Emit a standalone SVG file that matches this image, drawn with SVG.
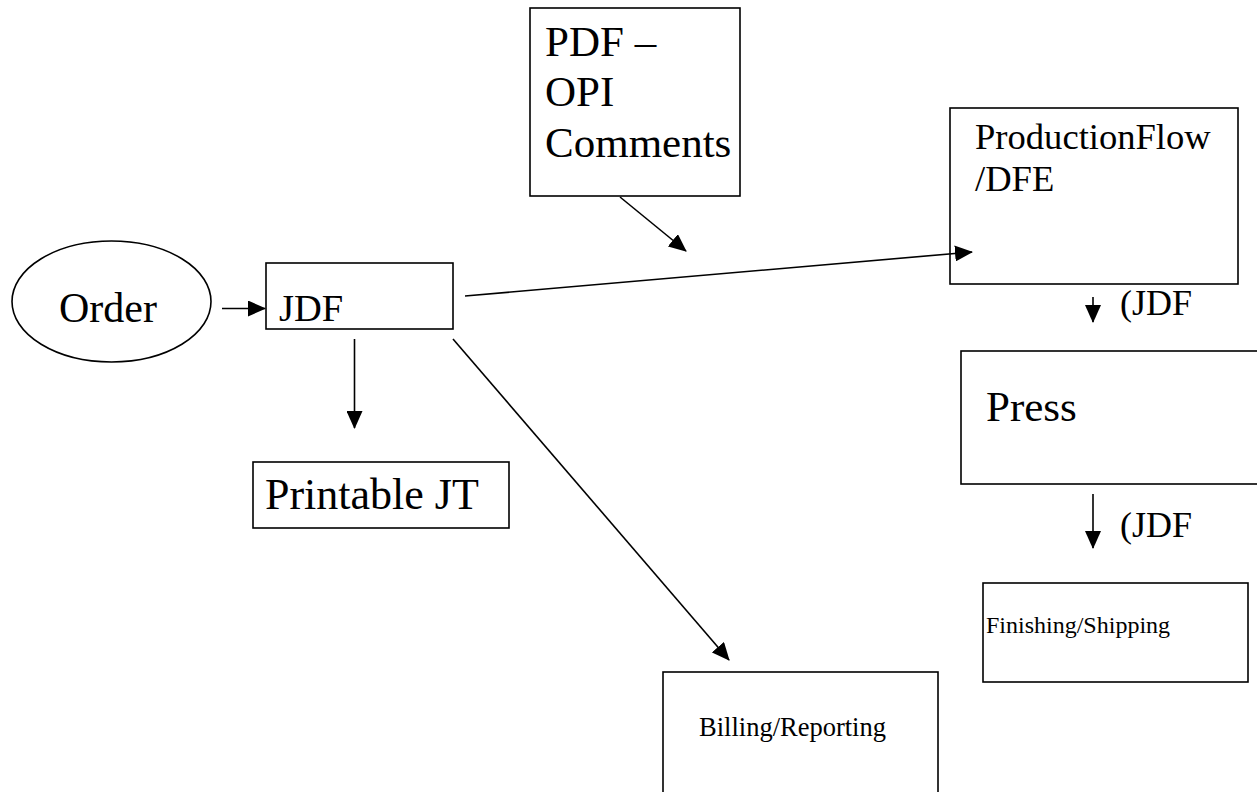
<svg xmlns="http://www.w3.org/2000/svg" width="1257" height="792" viewBox="0 0 1257 792">
<style>
.box{fill:#fff;stroke:#000;stroke-width:1.6}
.t{fill:#000;font-family:'Liberation Serif','Times New Roman',serif}
.ln{stroke:#000;stroke-width:1.6;fill:none}
</style>
<defs>
<marker id="ah" markerUnits="userSpaceOnUse" viewBox="0 0 18 16" markerWidth="18" markerHeight="16" refX="17" refY="8" orient="auto">
<path d="M0,0 L18,8 L0,16 Z" fill="#000"/>
</marker>
</defs>
<rect width="1257" height="792" fill="#fff"/>
<g id="order">
<ellipse class="box" cx="111.5" cy="301.5" rx="99.5" ry="60.5"/>
<text class="t" x="59" y="322" font-size="42">Order</text>
</g>
<g id="jdf">
<rect class="box" x="266" y="263" width="187" height="66"/>
<text class="t" x="279" y="321" font-size="38.5">JDF</text>
</g>
<g id="pdf">
<rect class="box" x="530" y="8" width="210" height="188"/>
<text class="t" x="545" y="56" font-size="43">PDF –</text>
<text class="t" x="545" y="106" font-size="43">OPI</text>
<text class="t" x="545" y="157" font-size="43">Comments</text>
</g>
<g id="productionflow">
<rect class="box" x="950" y="108" width="288" height="176"/>
<text class="t" x="975" y="149" font-size="36.6">ProductionFlow</text>
<text class="t" x="975" y="191" font-size="36.6">/DFE</text>
</g>
<g id="press">
<rect class="box" x="961" y="351" width="298" height="133"/>
<text class="t" x="986" y="421" font-size="43">Press</text>
</g>
<g id="printable">
<rect class="box" x="253" y="462" width="256" height="66"/>
<text class="t" x="265" y="509" font-size="44">Printable JT</text>
</g>
<g id="finishing">
<rect class="box" x="983" y="583" width="265" height="99"/>
<text class="t" x="986" y="633" font-size="24">Finishing/Shipping</text>
</g>
<g id="billing">
<rect class="box" x="663" y="672" width="275" height="130"/>
<text class="t" x="699" y="736" font-size="26.5">Billing/Reporting</text>
</g>
<g id="connectors">
<line class="ln" x1="222" y1="308.5" x2="265" y2="308.5" marker-end="url(#ah)"/>
<line class="ln" x1="620" y1="197" x2="686" y2="251" marker-end="url(#ah)"/>
<line class="ln" x1="465" y1="296" x2="972" y2="252" marker-end="url(#ah)"/>
<line class="ln" x1="354.5" y1="339" x2="354.5" y2="428" marker-end="url(#ah)"/>
<line class="ln" x1="453" y1="339" x2="729" y2="660" marker-end="url(#ah)"/>
<line class="ln" x1="1093" y1="297" x2="1093" y2="322" marker-end="url(#ah)"/>
<line class="ln" x1="1093" y1="494" x2="1093" y2="548" marker-end="url(#ah)"/>
<text class="t" x="1120" y="315" font-size="36">(JDF</text>
<text class="t" x="1120" y="537" font-size="36">(JDF</text>
</g>
</svg>
